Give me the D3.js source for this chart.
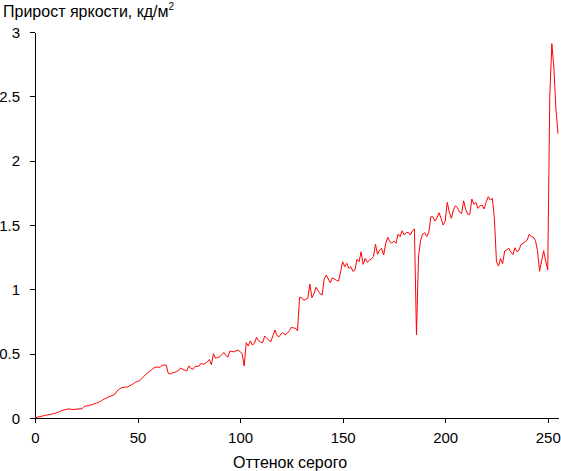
<!DOCTYPE html>
<html>
<head>
<meta charset="utf-8">
<script src="https://cdn.jsdelivr.net/npm/d3@7"></script>
<style>
body{margin:0;background:#fff;}
text{font-family:"Liberation Sans",Arial,sans-serif;}
</style>
</head>
<body>
<svg id="chart" width="561" height="471"></svg>
<script>
const title = "Прирост яркости, кд/м";
const titleSup = "2";
const xLabel = "Оттенок серого";
const xTicks = [0, 50, 100, 150, 200, 250];
const yTicks = [0, 0.5, 1, 1.5, 2, 2.5, 3];
const yTickLabels = ["0", "0.5", "1", "1.5", "2", "2.5", "3"];
const values = [
0.0,0.005,0.01,0.013,0.017,0.02,0.024,0.027,0.03,0.033,
0.038,0.043,0.05,0.057,0.062,0.066,0.069,0.07,0.066,0.066,
0.069,0.07,0.071,0.072,0.09,0.094,0.096,0.1,0.105,0.11,
0.116,0.122,0.13,0.14,0.15,0.157,0.165,0.17,0.177,0.185,
0.21,0.224,0.234,0.238,0.24,0.24,0.248,0.258,0.267,0.278,
0.285,0.29,0.305,0.322,0.338,0.352,0.365,0.376,0.39,0.396,
0.395,0.395,0.41,0.412,0.41,0.345,0.342,0.35,0.355,0.36,
0.37,0.389,0.378,0.372,0.366,0.405,0.385,0.378,0.4,0.402,
0.404,0.425,0.418,0.422,0.437,0.455,0.414,0.5,0.465,0.47,
0.476,0.49,0.51,0.49,0.472,0.52,0.518,0.513,0.522,0.528,
0.515,0.5,0.404,0.585,0.56,0.6,0.567,0.58,0.627,0.6,
0.59,0.585,0.637,0.62,0.605,0.593,0.64,0.684,0.64,0.632,
0.655,0.662,0.645,0.66,0.678,0.705,0.7,0.697,0.678,0.938,
0.935,0.915,0.922,0.93,1.041,0.935,0.965,1.016,0.99,0.965,
0.956,1.08,1.111,1.08,1.051,1.09,1.08,1.07,1.064,1.137,
1.215,1.176,1.202,1.163,1.176,1.14,1.15,1.235,1.214,1.292,
1.194,1.241,1.21,1.225,1.235,1.255,1.35,1.272,1.305,1.318,
1.267,1.357,1.404,1.37,1.36,1.375,1.357,1.43,1.409,1.455,
1.422,1.44,1.443,1.422,1.455,1.469,0.645,1.26,1.38,1.43,
1.44,1.41,1.443,1.564,1.564,1.53,1.556,1.595,1.55,1.5,
1.53,1.676,1.6,1.552,1.616,1.65,1.634,1.6,1.59,1.688,
1.62,1.583,1.583,1.702,1.66,1.676,1.629,1.65,1.655,1.624,
1.68,1.72,1.694,1.707,1.55,1.215,1.181,1.24,1.2,1.298,
1.305,1.32,1.29,1.27,1.323,1.292,1.305,1.35,1.357,1.37,
1.383,1.43,1.409,1.405,1.38,1.3,1.14,1.22,1.3,1.22,
1.15,2.5,2.91,2.72,2.4,2.21
];
const grey = d3.range(values.length);

const svg = d3.select("#chart");
const margin = {left: 35, right: 3, top: 32, bottom: 53};
const W = 561, H = 471;
const x = d3.scaleLinear().domain([0, 255]).range([margin.left, W - margin.right]);
const y = d3.scaleLinear().domain([0, 3]).range([H - margin.bottom, margin.top]);

const xAxis = d3.axisBottom(x).tickValues(xTicks).tickSize(5).tickSizeOuter(0).tickFormat(d3.format("d"));
const yAxis = d3.axisLeft(y).tickValues(yTicks).tickSize(5).tickSizeOuter(0)
  .tickFormat((d, i) => yTickLabels[i]);

const gx = svg.append("g").attr("transform", `translate(0,${H - margin.bottom})`).call(xAxis);
const gy = svg.append("g").attr("transform", `translate(${margin.left},0)`).call(yAxis);
[gx, gy].forEach(g => {
  g.selectAll("path,line").attr("stroke", "#000").attr("shape-rendering", "crispEdges");
  g.selectAll("text").attr("fill", "#000").style("font-size", "15px")
    .style("font-family", '"Liberation Sans",Arial,sans-serif');
});
gx.selectAll("text").attr("dy", "1.1em");
gy.selectAll("text").attr("x", -15).attr("dy", "0.35em");

const line = d3.line().x((d, i) => x(grey[i])).y(d => y(d));
svg.append("path").datum(values)
  .attr("fill", "none").attr("stroke", "#ff0000").attr("stroke-width", 1)
  .attr("d", line);

const t = svg.append("text").attr("x", 3).attr("y", 17).attr("fill", "#000")
  .style("font-size", "16px");
t.append("tspan").text(title);
t.append("tspan").text(titleSup).attr("dy", -7).style("font-size", "10px");

svg.append("text").attr("x", 290).attr("y", 468)
  .attr("text-anchor", "middle").attr("fill", "#000").style("font-size", "16px").text(xLabel);
</script>
</body>
</html>
